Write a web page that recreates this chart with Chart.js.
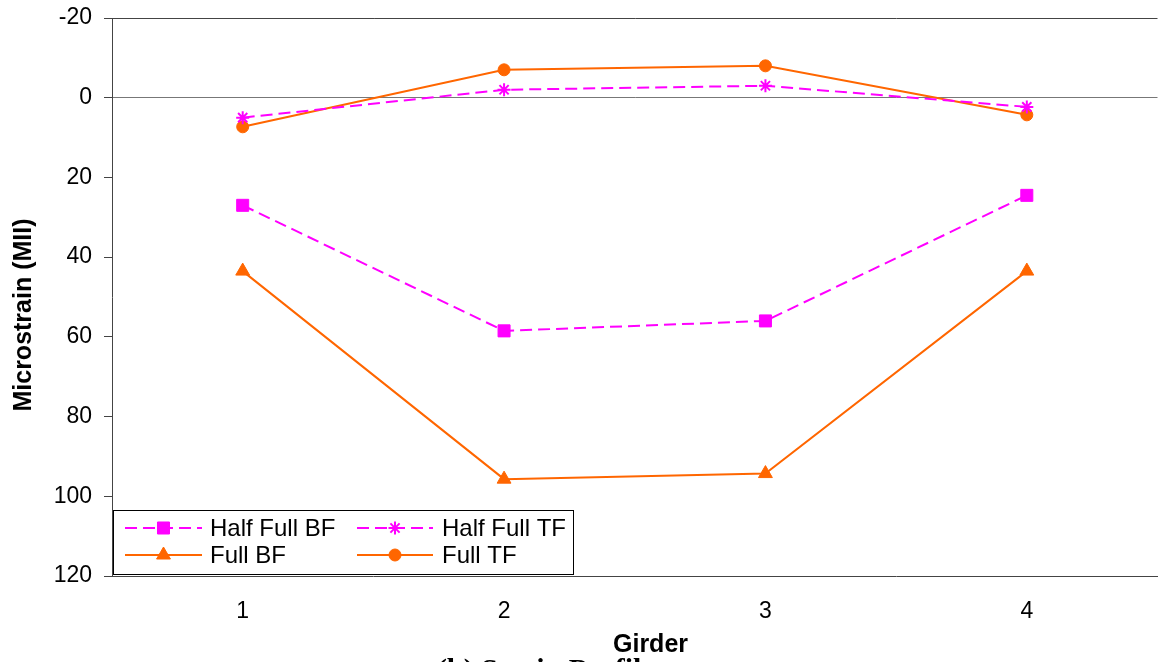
<!DOCTYPE html>
<html>
<head>
<meta charset="utf-8">
<script src="https://cdn.jsdelivr.net/npm/chart.js@4/dist/chart.umd.min.js"></script>
<style>
  html, body { margin: 0; padding: 0; background: #fff; overflow: hidden; width: 1158px; height: 662px; }
  #wrap { width: 1167px; height: 662px; position: relative; }
</style>
</head>
<body>
<div id="wrap"><canvas id="chart"></canvas></div>
<script>
// データ
const girders = ['1', '2', '3', '4']
const halfFullBF = [27, 58.5, 56, 24.5]
const halfFullTF = [5, -2, -3, 2.3]
const fullBF = [43.5, 95.7, 94.3, 43.5]
const fullTF = [7.3, -7, -8, 4.3]
const yTicks = [-20, 0, 20, 40, 60, 80, 100, 120]

const ORANGE = '#FF6600'
const MAGENTA = '#FF00FF'
const AXIS = '#444444'

// 凡例（グラフ内の左下）
const boxLegend = {
  id: 'boxLegend',
  afterDraw(chart) {
    const ctx = chart.ctx
    const left = 113, top = 510, right = 573, bottom = 574
    ctx.save()
    ctx.fillStyle = '#fff'
    ctx.fillRect(left, top, right - left, bottom - top)
    ctx.strokeStyle = '#000'
    ctx.lineWidth = 1
    ctx.strokeRect(left + 0.5, top + 0.5, right - left, bottom - top)

    const cols = [{ x0: 125, x1: 202, text: 210 }, { x0: 357, x1: 433, text: 442 }]
    const rows = [528, 555]
    chart.data.datasets.forEach((ds, i) => {
      const c = cols[i % 2]
      const y = rows[Math.floor(i / 2)]
      ctx.strokeStyle = ds.borderColor
      ctx.lineWidth = ds.borderWidth
      ctx.setLineDash(ds.borderDash || [])
      ctx.beginPath()
      ctx.moveTo(c.x0, y)
      ctx.lineTo(c.x1, y)
      ctx.stroke()
      ctx.setLineDash([])
      ctx.fillStyle = ds.pointBackgroundColor
      ctx.strokeStyle = ds.pointBorderColor
      ctx.lineWidth = ds.pointBorderWidth
      Chart.helpers.drawPoint(ctx, {
        pointStyle: ds.pointStyle,
        radius: ds.pointRadius,
        rotation: 0,
        borderWidth: ds.pointBorderWidth
      }, (c.x0 + c.x1) / 2, y)
      ctx.fillStyle = '#000'
      ctx.font = '24px "Liberation Sans", Arial, sans-serif'
      ctx.textAlign = 'left'
      ctx.textBaseline = 'middle'
      ctx.fillText(ds.label, c.text, y + 1)
    })
    ctx.restore()
  }
}

// 軸タイトルとキャプション
const titles = {
  id: 'titles',
  afterDraw(chart) {
    const ctx = chart.ctx
    ctx.save()
    ctx.fillStyle = '#000'
    ctx.font = 'bold 25px "Liberation Sans", Arial, sans-serif'
    ctx.textAlign = 'left'
    ctx.textBaseline = 'alphabetic'
    ctx.fillText('Girder', 613, 652)

    ctx.save()
    ctx.translate(31, 315)
    ctx.rotate(-Math.PI / 2)
    ctx.textAlign = 'center'
    ctx.fillText('Microstrain (MII)', 0, 0)
    ctx.restore()

    ctx.font = 'bold 30px "Liberation Serif", "Times New Roman", serif'
    ctx.fillText('(b) Strain Profile', 437, 679)
    ctx.restore()
  }
}

function makeDataset(label, data, color, style, radius, dashed) {
  return {
    label: label,
    data: data,
    borderColor: color,
    backgroundColor: color,
    borderWidth: 2,
    borderDash: dashed ? [12, 6] : [],
    pointStyle: style,
    pointRadius: radius,
    pointHoverRadius: radius,
    pointBackgroundColor: color,
    pointBorderColor: color,
    pointBorderWidth: style === 'star' ? 2 : 1,
    tension: 0,
    fill: false
  }
}

const ctx = document.getElementById('chart').getContext('2d')
new Chart(ctx, {
  type: 'line',
  data: {
    labels: girders,
    datasets: [
      makeDataset('Half Full BF', halfFullBF, MAGENTA, 'rect', 8.5, true),
      makeDataset('Half Full TF', halfFullTF, MAGENTA, 'star', 6.5, true),
      makeDataset('Full BF', fullBF, ORANGE, 'triangle', 8, false),
      makeDataset('Full TF', fullTF, ORANGE, 'circle', 6, false)
    ]
  },
  options: {
    responsive: true,
    maintainAspectRatio: false,
    animation: false,
    layout: { padding: { top: 18, right: 0, left: 0, bottom: 0 } },
    plugins: {
      legend: { display: false },
      tooltip: { enabled: false }
    },
    scales: {
      x: {
        offset: true,
        grid: { color: 'rgba(0,0,0,0)', drawTicks: false },
        border: { display: true, color: AXIS, width: 1 },
        ticks: {
          color: '#000',
          padding: 22,
          font: { family: '"Liberation Sans", Arial, sans-serif', size: 23 }
        },
        afterFit(scale) {
          scale.height = 86
          scale.paddingLeft = 0
          scale.paddingRight = 0
        }
      },
      y: {
        reverse: true,
        min: yTicks[0],
        max: yTicks[yTicks.length - 1],
        afterBuildTicks(scale) {
          scale.ticks = yTicks.map(v => ({ value: v }))
        },
        grid: {
          color(c) {
            if (c.tick && c.tick.value === 0) return '#777777'
            if (c.tick && c.tick.value === -20) return AXIS
            return 'rgba(0,0,0,0)'
          },
          tickColor: AXIS,
          tickLength: 8
        },
        border: { display: true, color: AXIS, width: 1 },
        ticks: {
          color: '#000',
          padding: 12,
          font: { family: '"Liberation Sans", Arial, sans-serif', size: 23 }
        },
        afterFit(scale) {
          scale.width = 112
          scale.paddingTop = 0
          scale.paddingBottom = 0
        }
      }
    }
  },
  plugins: [boxLegend, titles]
})
</script>
</body>
</html>
